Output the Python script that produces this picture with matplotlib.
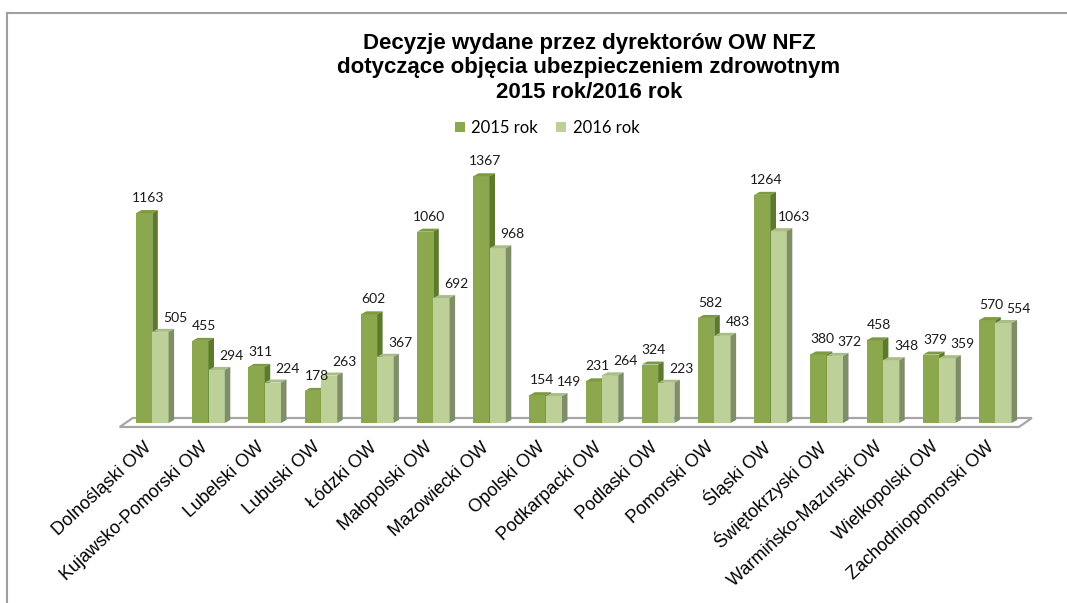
import matplotlib
matplotlib.use("Agg")
import matplotlib.pyplot as plt
from matplotlib.patches import Polygon, Rectangle
from matplotlib.lines import Line2D

# ---------------- data ----------------
categories = ["Dolnośląski OW", "Kujawsko-Pomorski OW", "Lubelski OW", "Lubuski OW",
              "Łódzki OW", "Małopolski OW", "Mazowiecki OW", "Opolski OW",
              "Podkarpacki OW", "Podlaski OW", "Pomorski OW", "Śląski OW",
              "Świętokrzyski OW", "Warmińsko-Mazurski OW", "Wielkopolski OW",
              "Zachodniopomorski OW"]
values_2015 = [1163, 455, 311, 178, 602, 1060, 1367, 154, 231, 324, 582, 1264, 380, 458, 379, 570]
values_2016 = [505, 294, 224, 263, 367, 692, 968, 149, 264, 223, 483, 1063, 372, 348, 359, 554]
series_labels = ["2015 rok", "2016 rok"]
title_lines = ["Decyzje wydane przez dyrektorów OW NFZ",
               "dotyczące objęcia ubezpieczeniem zdrowotnym",
               "2015 rok/2016 rok"]

# ---------------- layout ----------------
W, H = 1067, 603
fig = plt.figure(figsize=(W / 100, H / 100), dpi=100)
fig.patch.set_facecolor("white")

x0_px, step_px = 152.3, 56.2     # pixel x of first category, spacing
base_px, ppu = 423.0, 0.1805     # baseline (from top), pixels per unit
xlim = (-0.7, 15.8)
ylim = (-70, 1500)
ax = fig.add_axes([(x0_px + xlim[0] * step_px) / W,
                   (H - base_px + ylim[0] * ppu) / H,
                   (xlim[1] - xlim[0]) * step_px / W,
                   (ylim[1] - ylim[0]) * ppu / H])
ax.set_xlim(*xlim)
ax.set_ylim(*ylim)
ax.axis("off")

bw = 16.3 / step_px          # bar width in data units
ddx = 5.5 / step_px          # 3D depth offset x
ddy = 3.0 / ppu              # 3D depth offset y

colors = [
    dict(front="#8BA84E", top="#7C9B41", side="#5D7A2C"),
    dict(front="#BDD098", top="#A9BD86", side="#7F8D68"),
]

# floor
fl, fr = -0.58, 15.42
fdy_front, fdy_back = -4.0 / ppu, 5.0 / ppu
fdx = 13.0 / step_px
floor = Polygon([(fl, fdy_front), (fr, fdy_front), (fr + fdx, fdy_back), (fl + fdx, fdy_back)],
                closed=True, facecolor="white", edgecolor="#A6A6A6", lw=1.6, zorder=1)
ax.add_patch(floor)

px2pt = 0.72
label_off = [(4, 15), (15, 14)]

for s, vals in enumerate([values_2015, values_2016]):
    c = colors[s]
    for i, v in enumerate(vals):
        l = i - bw + s * bw
        r = l + bw
        z = 2 + s
        ax.bar(l, v, width=bw, align="edge", color=c["front"], lw=0, zorder=z)
        ax.add_patch(Polygon([(l, v), (l + ddx, v + ddy), (r + ddx, v + ddy), (r, v)],
                             closed=True, facecolor=c["top"], lw=0, zorder=z))
        ax.add_patch(Polygon([(r, 0), (r, v), (r + ddx, v + ddy), (r + ddx, ddy)],
                             closed=True, facecolor=c["side"], lw=0, zorder=z))
        dx, dy = label_off[s]
        ax.annotate(str(v), xy=((l + r) / 2, v), xytext=(dx * px2pt, dy * px2pt),
                    textcoords="offset points", ha="center", va="center",
                    fontsize=10, family="Lato", color="#1a1a1a", zorder=10)

# category labels
for i, name in enumerate(categories):
    ax.annotate(name, xy=(i, 0), xytext=(-3 * px2pt, -22 * px2pt),
                textcoords="offset points", rotation=43, rotation_mode="anchor",
                ha="right", va="center", fontsize=13, family="Liberation Sans",
                color="#000000", annotation_clip=False)

# title
fig.text(589 / W, 1 - 68 / H, "\n".join(title_lines), ha="center", va="center",
         fontsize=16, fontweight="bold", family="Liberation Sans",
         linespacing=1.2, color="#000000")

# legend
handles = [Rectangle((0, 0), 1, 1, facecolor=colors[k]["front"], lw=0) for k in range(2)]
fig.legend(handles, series_labels, loc="center", bbox_to_anchor=(547 / W, 1 - 128 / H),
           ncol=2, frameon=False, prop=dict(family="Lato", size=12),
           handlelength=0.6, handleheight=0.6, handletextpad=0.4, columnspacing=1.1,
           borderpad=0)

# outer frame (partially visible)
fig.add_artist(Line2D([7 / W, 1.0], [1 - 13 / H, 1 - 13 / H], transform=fig.transFigure,
                      color="#A0A0A0", lw=1.5))
fig.add_artist(Line2D([7 / W, 7 / W], [1 - 13 / H, 0], transform=fig.transFigure,
                      color="#A0A0A0", lw=1.5))

fig.savefig("out.png", dpi=100, facecolor="white")
